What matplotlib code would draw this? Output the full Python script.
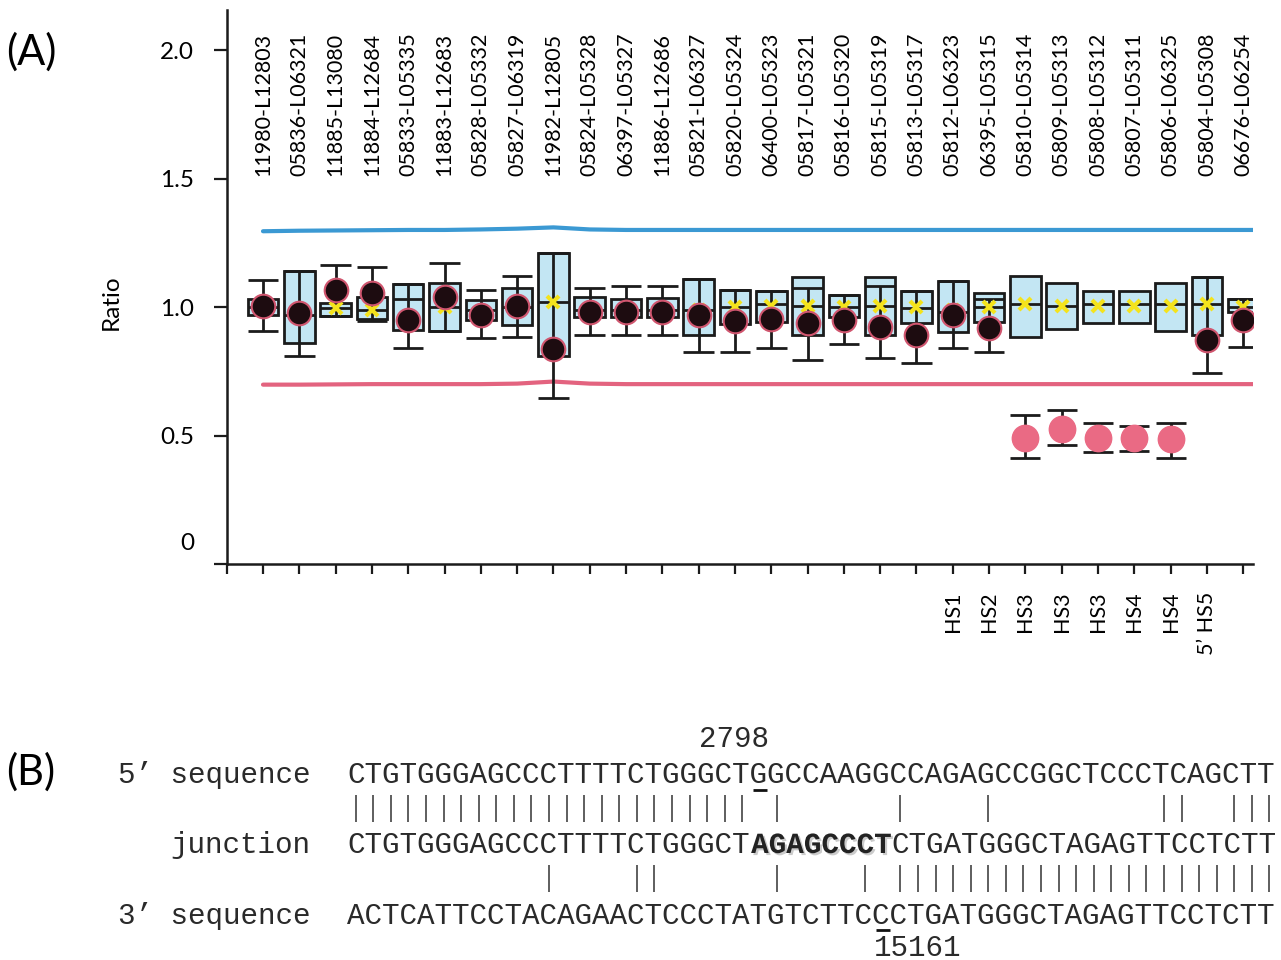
import numpy as np
import matplotlib as mpl
from matplotlib import pyplot as plt
import matplotlib.patheffects as pe

mpl.rcParams.update({'font.family': ['Lato', 'DejaVu Sans'],
                     'font.size': 15})

# ---- panel A data ----
pair_labels = ['11980-L12803', '05836-L06321', '11885-L13080', '11884-L12684', '05833-L05335',
               '11883-L12683', '05828-L05332', '05827-L06319', '11982-L12805', '05824-L05328',
               '06397-L05327', '11886-L12686', '05821-L06327', '05820-L05324', '06400-L05323',
               '05817-L05321', '05816-L05320', '05815-L05319', '05813-L05317', '05812-L06323',
               '06395-L05315', '05810-L05314', '05809-L05313', '05808-L05312', '05807-L05311',
               '05806-L06325', '05804-L05308', '06676-L06254']
hs_labels = [''] * 19 + ['HS1', 'HS2', 'HS3', 'HS3', 'HS3', 'HS4', 'HS4', '5’ HS5', '']

box_q1 = [0.97, 0.86, 0.965, 0.955, 0.91, 0.905, 0.95, 0.93, 0.81, 0.96, 0.96, 0.96, 0.892, 0.935,
          0.942, 0.891, 0.96, 0.891, 0.938, 0.903, 0.942, 0.882, 0.916, 0.938, 0.938, 0.906, 0.891, 0.981]
box_med = [1.00, 0.97, 0.995, 0.99, 1.03, 1.00, 0.99, 1.00, 1.02, 0.99, 0.99, 0.99, 0.99, 1.00,
           1.01, 1.005, 1.00, 1.005, 0.995, 0.98, 1.00, 1.013, 1.006, 1.01, 1.01, 1.013, 1.013, 1.00]
box_q3 = [1.03, 1.14, 1.017, 1.038, 1.09, 1.093, 1.028, 1.074, 1.21, 1.038, 1.03, 1.035, 1.108, 1.066,
          1.062, 1.116, 1.045, 1.116, 1.062, 1.10, 1.054, 1.122, 1.093, 1.062, 1.062, 1.093, 1.116, 1.032]
whisk_lo = [0.905, 0.81, 0.965, 0.945, 0.84, 0.905, 0.878, 0.885, 0.645, 0.89, 0.89, 0.89, 0.824, 0.824,
            0.839, 0.794, 0.855, 0.80, 0.784, 0.839, 0.826, np.nan, np.nan, np.nan, np.nan, np.nan, 0.745, 0.846]
whisk_hi = [1.105, 1.14, 1.163, 1.156, 1.09, 1.172, 1.066, 1.12, 1.21, 1.076, 1.083, 1.083, 1.108, 1.066,
            1.062, 1.075, 1.045, 1.08, 1.062, 1.10, 1.03, np.nan, np.nan, np.nan, np.nan, np.nan, 1.116, 1.032]
mean_vals = [1.00, 0.975, 0.995, 0.99, 0.955, 1.00, 0.975, 1.00, 1.02, 0.98, 0.98, 0.98, 0.99, 1.00,
             1.005, 1.005, 1.00, 1.005, 1.00, 0.99, 1.00, 1.01, 1.005, 1.005, 1.005, 1.005, 1.01, 1.00]
sample_ratio = [1.005, 0.975, 1.065, 1.055, 0.95, 1.04, 0.97, 1.005, 0.835, 0.98, 0.98, 0.98, 0.968, 0.945,
                0.955, 0.936, 0.949, 0.923, 0.891, 0.968, 0.919, np.nan, np.nan, np.nan, np.nan, np.nan,
                0.871, 0.949]
# deleted probes (pink dots) with their ranges
del_pos = [22, 23, 24, 25, 26]
del_ratio = [0.492, 0.524, 0.492, 0.492, 0.488]
del_lo = [0.414, 0.463, 0.434, 0.44, 0.414]
del_hi = [0.579, 0.601, 0.547, 0.539, 0.547]
upper_thr = [1.295, 1.297, 1.298, 1.299, 1.30, 1.30, 1.302, 1.305, 1.31, 1.302, 1.30, 1.30, 1.30, 1.30,
             1.30, 1.30, 1.30, 1.30, 1.30, 1.30, 1.30, 1.30, 1.30, 1.30, 1.30, 1.30, 1.30, 1.30]
lower_thr = [0.698, 0.698, 0.699, 0.70, 0.70, 0.70, 0.70, 0.702, 0.71, 0.702, 0.70, 0.70, 0.70, 0.70,
             0.70, 0.70, 0.70, 0.70, 0.70, 0.70, 0.70, 0.70, 0.70, 0.70, 0.70, 0.70, 0.70, 0.70]

# ---- panel B data ----
seq5 = 'CTGTGGGAGCCCTTTTCTGGGCTGGCCAAGGCCAGAGCCGGCTCCCTCAGCTT'
seqj = 'CTGTGGGAGCCCTTTTCTGGGCTAGAGCCCTCTGATGGGCTAGAGTTCCTCTT'
seq3 = 'ACTCATTCCTACAGAACTCCCTATGTCTTCCCTGATGGGCTAGAGTTCCTCTT'
insert_start, insert_end = 23, 31   # bold AGAGCCCT (0-based, end exclusive)
bp5_idx, bp5_label = 23, '2798'
bp3_idx, bp3_label = 30, '15161'

W, H = 1281, 960
fig = plt.figure(figsize=(W / 100, H / 100), dpi=100)

# axes placed in pixel terms of the reference
ax_l, ax_r, ax_b, ax_t = 226.7, 1253, 564, 10
ax = fig.add_axes([ax_l / W, 1 - ax_b / H, (ax_r - ax_l) / W, (ax_b - ax_t) / H])
x = np.arange(1, len(pair_labels) + 1)
ax.set_xlim(0, 28.27)
ax.set_ylim(0, 2.156)

ink = '#1b1b1b'
bw = 0.84
x_end = np.append(x, ax.get_xlim()[1])
ax.plot(x_end, np.append(upper_thr, upper_thr[-1]), color='#3b99d3', lw=3, solid_capstyle='round', zorder=2)
ax.plot(x_end, np.append(lower_thr, lower_thr[-1]), color='#e3637f', lw=3, solid_capstyle='round', zorder=2)

q1 = np.array(box_q1)
q3 = np.array(box_q3)
ax.bar(x, q3 - q1, bottom=q1, width=bw, color='#c3e6f3', edgecolor=ink, linewidth=2, zorder=3)
ax.vlines(x, whisk_lo, whisk_hi, color=ink, lw=2, zorder=4)
ax.hlines(whisk_lo, x - bw / 2, x + bw / 2, color=ink, lw=2, zorder=4)
ax.hlines(whisk_hi, x - bw / 2, x + bw / 2, color=ink, lw=2, zorder=4)
ax.hlines(box_med, x - bw / 2, x + bw / 2, color=ink, lw=2, zorder=4)
ax.plot(x, mean_vals, 'x', color='#f4e31c', ms=9, mew=3, zorder=5)
ax.plot(x, sample_ratio, 'o', mfc='#1d0c10', mec='#d0566f', ms=17, mew=1.5, zorder=6)

ax.errorbar(del_pos, del_ratio,
            yerr=[np.array(del_ratio) - np.array(del_lo), np.array(del_hi) - np.array(del_ratio)],
            fmt='none', ecolor=ink, elinewidth=2, capsize=11, capthick=2, zorder=4)
ax.plot(del_pos, del_ratio, 'o', color='#ea6a84', ms=19, zorder=6)

for xi, lab in zip(x, pair_labels):
    ax.text(xi, 1.51, lab, rotation=90, ha='center', va='bottom', fontsize=15.5)

ax.set_yticks([0, 0.5, 1.0, 1.5, 2.0])
ax.set_yticklabels(['', '0.5', '1.0', '1.5', '2.0'])
ax.set_xticks(np.arange(0, 29))
ax.set_xticklabels([''] + hs_labels, rotation=90)
ax.tick_params(axis='y', direction='out', length=9.5, width=1.6, pad=14, labelsize=17.5, color=ink)
ax.tick_params(axis='x', direction='out', length=7, width=1.6, pad=13, labelsize=15.5, color=ink)
for side in ['top', 'right']:
    ax.spines[side].set_visible(False)
for side in ['left', 'bottom']:
    ax.spines[side].set_linewidth(1.8)
    ax.spines[side].set_color(ink)
ax.set_ylabel('Ratio', fontsize=17.5)
ax.yaxis.set_label_coords(-0.102, 0.473)
ax.set_facecolor('none')

# overlay in pixel coordinates for panel letters and panel B
ov = fig.add_axes([0, 0, 1, 1])
ov.set_xlim(0, W)
ov.set_ylim(H, 0)
ov.axis('off')
ov.set_facecolor('none')

ov.text(194, 543, '0', ha='right', va='center', fontsize=17.5)
ov.text(6, 52, '(A)', ha='left', va='center', fontsize=30)
ov.text(6, 772, '(B)', ha='left', va='center', fontsize=30)

mono = 'Liberation Mono'
txt = '#2a2a2a'
cw = 17.57
x0 = 347
fs = cw / 0.6 * 72 / 100


def cx(i):
    return x0 + cw * (i + 0.5)


rows = {'top': 747, 's5': 783, 'j': 853, 's3': 924, 'bot': 956}
ov.text(310, rows['s5'], '5’ sequence', ha='right', va='baseline', family=mono, fontsize=fs, color=txt)
ov.text(310, rows['j'], 'junction', ha='right', va='baseline', family=mono, fontsize=fs, color=txt)
ov.text(310, rows['s3'], '3’ sequence', ha='right', va='baseline', family=mono, fontsize=fs, color=txt)

ov.text(x0, rows['s5'], seq5, ha='left', va='baseline', family=mono, fontsize=fs, color=txt)
ov.text(x0, rows['j'], seqj[:insert_start], ha='left', va='baseline', family=mono, fontsize=fs, color=txt)
ov.text(x0 + cw * insert_start, rows['j'], seqj[insert_start:insert_end], ha='left', va='baseline',
        family=mono, fontsize=fs, fontweight='bold', color='#222',
        path_effects=[pe.withSimplePatchShadow(offset=(1.5, -1.5), shadow_rgbFace='0.6', alpha=0.5)])
ov.text(x0 + cw * insert_end, rows['j'], seqj[insert_end:], ha='left', va='baseline', family=mono,
        fontsize=fs, color=txt)
ov.text(x0, rows['s3'], seq3, ha='left', va='baseline', family=mono, fontsize=fs, color=txt)

# position labels and underlines
ov.text(x0 + cw * (bp5_idx + 1), rows['top'], bp5_label, ha='right', va='baseline', family=mono,
        fontsize=fs, color=txt)
ov.hlines(790, cx(bp5_idx) - cw * 0.42, cx(bp5_idx) + cw * 0.42, color='#111', lw=2)
ov.text(x0 + cw * bp3_idx, rows['bot'], bp3_label, ha='left', va='baseline', family=mono,
        fontsize=fs, color=txt)
ov.hlines(930, cx(bp3_idx) - cw * 0.42, cx(bp3_idx) + cw * 0.42, color='#111', lw=2)

# match bars
m1 = [cx(i) for i, (a, b) in enumerate(zip(seq5, seqj)) if a == b]
m2 = [cx(i) for i, (a, b) in enumerate(zip(seqj, seq3)) if a == b]
ov.vlines(m1, 795, 822, color='#333', lw=1.1)
ov.vlines(m2, 865, 892, color='#333', lw=1.1)

fig.savefig('out.png', dpi=100, facecolor='white')
